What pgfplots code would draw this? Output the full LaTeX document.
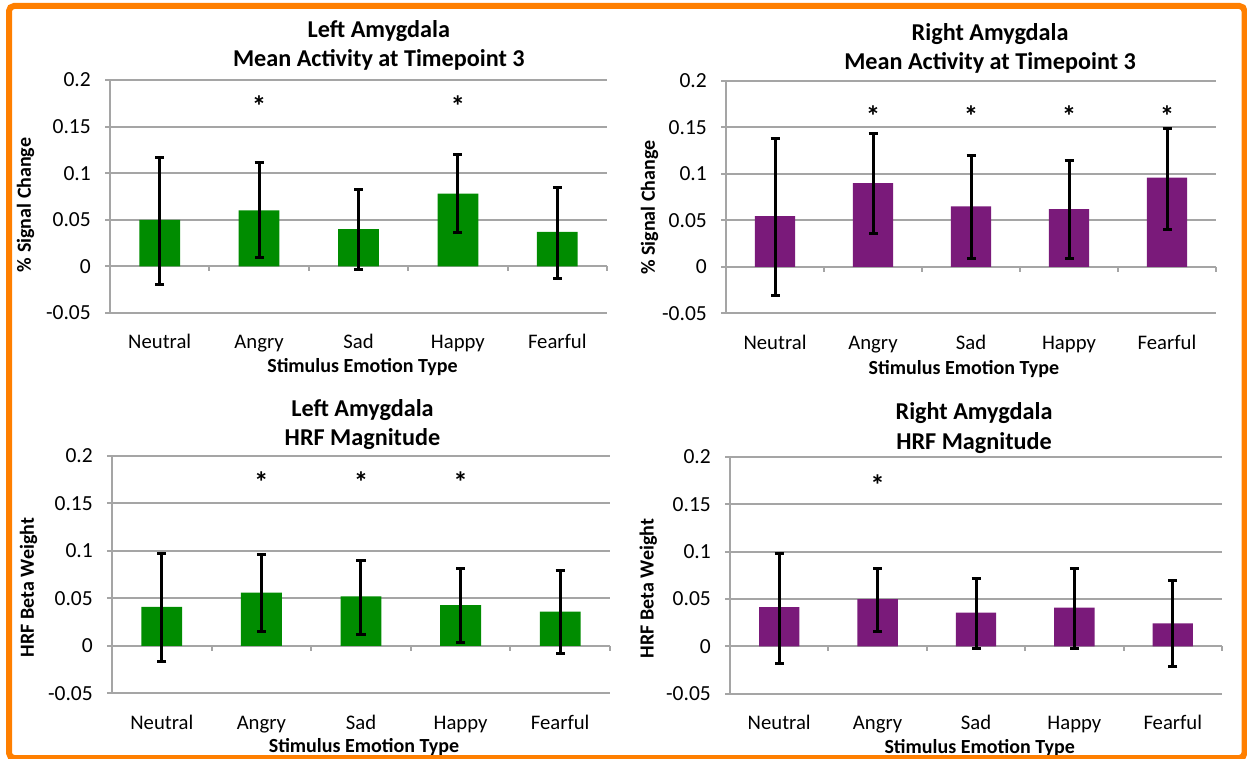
\documentclass[border=0pt]{standalone}
\usepackage{pgfplots}
\pgfplotsset{compat=1.18}
\usepackage{pgfplotstable}
\usepackage{fontspec}
\setmainfont{Carlito}
\definecolor{barG}{RGB}{0,140,0}
\definecolor{barP}{RGB}{122,26,122}
\definecolor{gridgray}{RGB}{165,165,165}
\definecolor{frameorange}{RGB}{255,127,0}

\pgfplotstableread{
x y ep em
0 0.050 0.067 0.069
1 0.060 0.052 0.050
2 0.040 0.043 0.043
3 0.078 0.042 0.042
4 0.037 0.048 0.050
}\LeftMean
\pgfplotstableread{
x y ep em
0 0.0546 0.084 0.085
1 0.090 0.054 0.054
2 0.065 0.055 0.056
3 0.062 0.052 0.053
4 0.096 0.053 0.056
}\RightMean
\pgfplotstableread{
x y ep em
0 0.041 0.056 0.058
1 0.056 0.040 0.041
2 0.052 0.038 0.040
3 0.043 0.039 0.040
4 0.036 0.043 0.044
}\LeftHRF
\pgfplotstableread{
x y ep em
0 0.0415 0.057 0.060
1 0.050 0.032 0.034
2 0.0356 0.036 0.038
3 0.041 0.041 0.043
4 0.0243 0.045 0.046
}\RightHRF

\newcommand{\titlefont}{\bfseries\fontsize{24.2}{29.4}\selectfont}
\newcommand{\labfont}{\bfseries\fontsize{20}{24}\selectfont}
\newcommand{\tickfont}{\fontsize{20.7}{24}\selectfont}
\newcommand{\ytickfont}{\fontsize{21.5}{24}\selectfont}

\pgfplotsset{
  amy/.style={
    scale only axis,
    xmin=-0.5, xmax=4.5, ymin=-0.05, ymax=0.2,
    axis line style={draw=none},
    ytick={-0.05,0,0.05,0.1,0.15,0.2},
    yticklabels={-0.05,0,0.05,0.1,0.15,0.2},
    ymajorgrids,
    grid style={gridgray, line width=2pt},
    ytick pos=left,
    tick align=outside,
    major tick length=5pt,
    ytick style={gridgray, line width=2pt},
    yticklabel style={font=\ytickfont, anchor=east, inner sep=0pt, xshift=-14pt},
    xtick={0,1,2,3,4},
    xticklabels={Neutral,Angry,Sad,Happy,Fearful},
    xtick style={draw=none},
    xticklabel style={font=\tickfont, anchor=base, inner sep=0pt, yshift=-31pt},
    extra x ticks={-0.5},
    extra x tick labels={},
    extra x tick style={grid=major, major tick length=0pt},
    title style={font=\titlefont, align=center, anchor=south, inner sep=0pt},
    xlabel style={font=\labfont, anchor=base, inner sep=0pt},
    ylabel style={font=\labfont, anchor=base, inner sep=0pt, rotate=0},
    xlabel={Stimulus Emotion Type},
    clip=false,
  },
  errs/.style={
    error bars/.cd, y dir=both, y explicit,
    error bar style={line width=3pt, black},
    error mark options={rotate=90, line width=3pt, black, mark size=4.5pt},
  },
  star/.style={draw=none, mark=none, nodes near coords={*},
    every node near coord/.style={anchor=center, inner sep=0pt, font=\bfseries\fontsize{29}{29}\selectfont}},
}

\begin{document}
\begin{tikzpicture}
\path[use as bounding box] (0pt,0pt) rectangle (1247pt,758pt);

% Top left
\begin{axis}[amy, at={(110pt,445pt)}, anchor=south west, width=497pt, height=233pt,
  title={Left Amygdala\\Mean Activity at Timepoint 3},
  title style={at={(axis description cs:0.541,1)}, yshift=3pt},
  xlabel style={at={(axis description cs:0.508,0)}, yshift=-59.2pt},
  ylabel={\% Signal Change},
  ylabel style={at={(axis description cs:-0.1594,0.464)}}]
\addplot[ycomb, draw=gridgray, line width=2pt, forget plot] coordinates {(0.5,-0.0053) (1.5,-0.0053) (2.5,-0.0053) (3.5,-0.0053) (4.5,-0.0053)};
\addplot[ybar, bar width=0.41, fill=barG, draw=none, errs] table[x=x, y=y, y error plus=ep, y error minus=em] {\LeftMean};
\addplot[star] coordinates {(1,0.172) (3,0.172)};
\end{axis}

% Top right
\begin{axis}[amy, at={(726pt,444.7pt)}, anchor=south west, width=490pt, height=232.3pt,
  title={Right Amygdala\\Mean Activity at Timepoint 3},
  title style={at={(axis description cs:0.539,1)}, yshift=1.2pt},
  xlabel style={at={(axis description cs:0.4855,0)}, yshift=-61pt},
  ylabel={\% Signal Change},
  ylabel style={at={(axis description cs:-0.1452,0.455)}}]
\addplot[ycomb, draw=gridgray, line width=2pt, forget plot] coordinates {(0.5,-0.0053) (1.5,-0.0053) (2.5,-0.0053) (3.5,-0.0053) (4.5,-0.0053)};
\addplot[ybar, bar width=0.41, fill=barP, draw=none, errs] table[x=x, y=y, y error plus=ep, y error minus=em] {\RightMean};
\addplot[star] coordinates {(1,0.162) (2,0.162) (3,0.162) (4,0.162)};
\end{axis}

% Bottom left
\begin{axis}[amy, at={(112pt,64.7pt)}, anchor=south west, width=498pt, height=237.3pt,
  title={Left Amygdala\\HRF Magnitude},
  title style={at={(axis description cs:0.503,1)}, yshift=0pt},
  xlabel style={at={(axis description cs:0.506,0)}, yshift=-59.2pt},
  ylabel={HRF Beta Weight},
  ylabel style={at={(axis description cs:-0.157,0.446)}}]
\addplot[ycomb, draw=gridgray, line width=2pt, forget plot] coordinates {(0.5,-0.0053) (1.5,-0.0053) (2.5,-0.0053) (3.5,-0.0053) (4.5,-0.0053)};
\addplot[ybar, bar width=0.41, fill=barG, draw=none, errs] table[x=x, y=y, y error plus=ep, y error minus=em] {\LeftHRF};
\addplot[star] coordinates {(1,0.172) (2,0.172) (3,0.172)};
\end{axis}

% Bottom right
\begin{axis}[amy, at={(730pt,64.3pt)}, anchor=south west, width=492pt, height=236.7pt,
  title={Right Amygdala\\HRF Magnitude},
  title style={at={(axis description cs:0.496,1)}, yshift=-2.3pt},
  xlabel style={at={(axis description cs:0.5075,0)}, yshift=-59.5pt},
  ylabel={HRF Beta Weight},
  ylabel style={at={(axis description cs:-0.155,0.444)}}]
\addplot[ycomb, draw=gridgray, line width=2pt, forget plot] coordinates {(0.5,-0.0053) (1.5,-0.0053) (2.5,-0.0053) (3.5,-0.0053) (4.5,-0.0053)};
\addplot[ybar, bar width=0.41, fill=barP, draw=none, errs] table[x=x, y=y, y error plus=ep, y error minus=em] {\RightHRF};
\addplot[star] coordinates {(1,0.170)};
\end{axis}

\draw[frameorange, line width=6pt, rounded corners=5pt] (9pt,0pt) rectangle (1244.5pt,752pt);
\end{tikzpicture}
\end{document}
